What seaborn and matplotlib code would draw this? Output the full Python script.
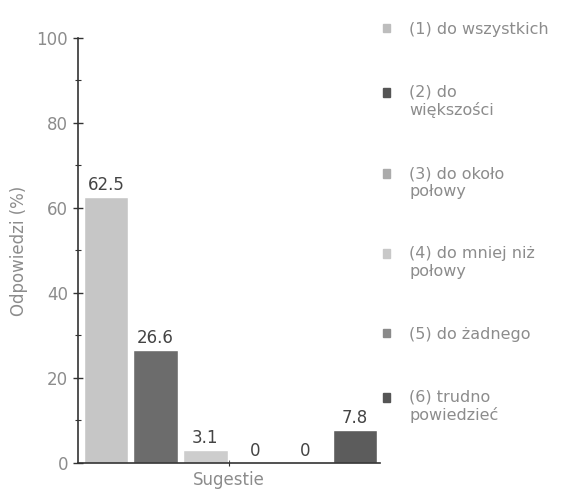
import matplotlib
matplotlib.use("Agg")
import matplotlib.pyplot as plt
import matplotlib.patches as mpatches
from matplotlib.legend_handler import HandlerPatch
from matplotlib.ticker import MultipleLocator, FixedLocator
import seaborn as sns
import pandas as pd

# data
categories = ["(1) do wszystkich", "(2) do\nwiększości", "(3) do około\npołowy",
              "(4) do mniej niż\npołowy", "(5) do żadnego", "(6) trudno\npowiedzieć"]
values = [62.5, 26.6, 3.1, 0, 0, 7.8]
bar_colors = ["#c6c6c6", "#6c6c6c", "#cdcdcd", "#c9c9c9", "#8a8a8a", "#5c5c5c"]
legend_colors = ["#bdbdbd", "#555555", "#ababab", "#c8c8c8", "#8a8a8a", "#555555"]

sns.set_style("ticks")
plt.rcParams['font.family'] = ['DejaVu Sans']

df = pd.DataFrame({"cat": categories, "val": values})

fig = plt.figure(figsize=(5.69, 4.91), dpi=100)
ax = fig.add_axes([0.137, 0.057, 0.531, 0.866])

sns.barplot(data=df, x="cat", y="val", hue="cat", palette=bar_colors,
            width=0.89, legend=False, ax=ax, saturation=1)

txt_gray = "#8c8c8c"
for c in ax.containers:
    ax.bar_label(c, labels=[f"{v:g}" for v in c.datavalues], padding=2,
                 fontsize=12, color="#444444")

ax.set_ylim(0, 100)
ax.set_xlim(-0.56, 5.51)
ax.yaxis.set_major_locator(MultipleLocator(20))
ax.yaxis.set_minor_locator(MultipleLocator(10))
ax.xaxis.set_major_locator(FixedLocator([2.48]))
ax.set_xticklabels([""])
ax.tick_params(axis="y", which="major", direction="inout", length=7, width=1,
               colors="#333333", labelcolor=txt_gray, labelsize=12)
ax.tick_params(axis="y", which="minor", direction="inout", length=4, width=0.8,
               colors="#333333")
ax.tick_params(axis="x", direction="inout", length=5, colors="#333333")
sns.despine(ax=ax)
for s in ["left", "bottom"]:
    ax.spines[s].set_color("#333333")
    ax.spines[s].set_linewidth(1.2)

ax.set_ylabel("Odpowiedzi (%)", color=txt_gray, fontsize=12, labelpad=6)
ax.set_xlabel("Sugestie", color=txt_gray, fontsize=12, labelpad=0)


# legend marker sits next to the first line of a two-line label
def top_patch(shift):
    def make(legend, orig_handle, xdescent, ydescent, width, height, fontsize):
        return mpatches.Rectangle((-xdescent, -ydescent + shift * fontsize), width, height)
    return make


handles = [mpatches.Patch(color=c) for c in legend_colors]
hmap = {}
for h, lab in zip(handles, categories):
    shift = 0.58 if "\n" in lab else 0.0
    hmap[h] = HandlerPatch(patch_func=top_patch(shift))

leg = fig.legend(handles, categories, handler_map=hmap, loc="upper left",
                 bbox_to_anchor=(0.648, 0.985), frameon=False, fontsize=11.5,
                 labelspacing=3.0, handlelength=0.45, handleheight=0.45,
                 handletextpad=1.2, labelcolor=txt_gray)

fig.savefig("out.png", dpi=100)
